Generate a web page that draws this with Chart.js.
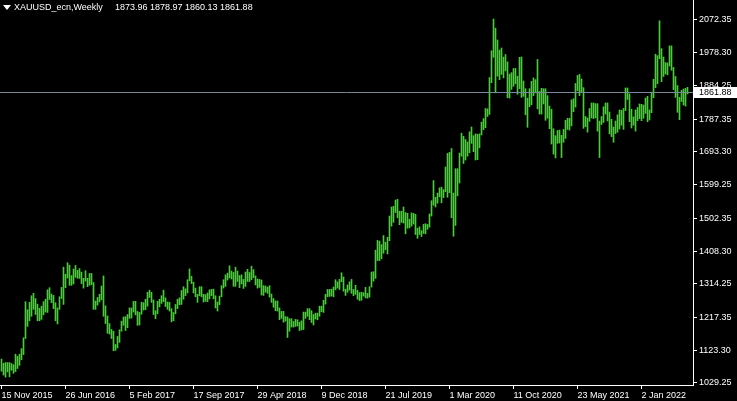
<!DOCTYPE html>
<html>
<head>
<meta charset="utf-8">
<script src="https://cdn.jsdelivr.net/npm/chart.js@4.4.1/dist/chart.umd.min.js"></script>
<style>
  html, body { margin: 0; padding: 0; background: #000; }
  canvas { display: block; }
</style>
</head>
<body>
<canvas id="chart" width="737" height="401"></canvas>
<script>
// weekly bars, first bar = week of 15 Nov 2015, one entry per week
const highs = [
  // 2015
  1098, 1086, 1088, 1088, 1088, 1085, 1082,
  // 2016
  1112, 1106, 1112, 1128, 1159, 1263, 1240, 1261, 1280, 1287, 1272, 1256, 1244,
  1250, 1263, 1270, 1297, 1303, 1285, 1281, 1260, 1245, 1277, 1304, 1362, 1342,
  1375, 1368, 1338, 1357, 1367, 1353, 1358, 1348, 1330, 1352, 1330, 1344, 1344,
  1318, 1265, 1275, 1284, 1308, 1337, 1251, 1222, 1200, 1183, 1178, 1140, 1163,
  // 2017
  1182, 1207, 1219, 1220, 1226, 1245, 1245, 1264, 1264, 1235, 1232, 1261, 1260,
  1270, 1290, 1296, 1290, 1268, 1237, 1264, 1270, 1280, 1296, 1274, 1262, 1261,
  1243, 1232, 1255, 1270, 1274, 1295, 1306, 1300, 1326, 1357, 1336, 1319, 1302,
  1284, 1306, 1306, 1284, 1283, 1288, 1297, 1298, 1299, 1280, 1262, 1279, 1309, 1326,
  // 2018
  1340, 1345, 1366, 1351, 1347, 1362, 1351, 1338, 1340, 1327, 1348, 1356,
  1347, 1365, 1355, 1337, 1328, 1327, 1325, 1309, 1308, 1305, 1309, 1285, 1272,
  1265, 1265, 1245, 1235, 1235, 1220, 1219, 1214, 1214, 1206, 1212, 1211, 1204, 1208,
  1233, 1233, 1243, 1243, 1237, 1226, 1230, 1230, 1250, 1250, 1267, 1284, 1298,
  // 2019
  1298, 1299, 1305, 1326, 1320, 1327, 1346, 1334, 1299, 1311, 1320, 1327, 1298,
  1310, 1296, 1289, 1290, 1289, 1304, 1287, 1306, 1348, 1349, 1411, 1439, 1437,
  1427, 1453, 1434, 1448, 1509, 1535, 1537, 1555, 1557, 1523, 1523, 1535, 1519,
  1517, 1500, 1518, 1517, 1514, 1474, 1478, 1467, 1485, 1487, 1485, 1515, 1553,
  // 2020
  1611, 1563, 1575, 1590, 1592, 1585, 1650, 1689, 1692, 1703, 1575, 1645, 1645,
  1690, 1747, 1738, 1729, 1722, 1751, 1765, 1740, 1745, 1744, 1745, 1779, 1789,
  1818, 1817, 1907, 1984, 2075, 2049, 2015, 1986, 1992, 1966, 1973, 1952, 1917,
  1921, 1933, 1933, 1911, 1965, 1966, 1897, 1875, 1848, 1875, 1896, 1906, 1901,
  // 2021
  1959, 1867, 1876, 1875, 1875, 1855, 1825, 1816, 1760, 1740, 1755, 1756, 1741,
  1758, 1784, 1790, 1790, 1843, 1846, 1890, 1913, 1916, 1903, 1878, 1795, 1791,
  1818, 1834, 1834, 1832, 1832, 1782, 1795, 1823, 1834, 1834, 1808, 1787, 1765,
  1782, 1800, 1814, 1813, 1818, 1877, 1877, 1860, 1816, 1794, 1814, 1821, 1831,
  // 2022
  1830, 1828, 1848, 1853, 1814, 1865, 1902, 1974, 1970, 2070, 1990, 1966, 1950,
  1949, 1998, 1998, 1936, 1910, 1884, 1850, 1870, 1874, 1876, 1879
];

const lows = [
  // 2015
  1063, 1052, 1046, 1061, 1047, 1066, 1057,
  // 2016
  1062, 1071, 1080, 1096, 1111, 1157, 1192, 1208, 1221, 1241, 1226, 1208, 1208,
  1212, 1225, 1233, 1232, 1269, 1260, 1243, 1208, 1199, 1241, 1272, 1255, 1303,
  1331, 1310, 1310, 1314, 1333, 1330, 1330, 1315, 1302, 1322, 1306, 1310, 1312,
  1241, 1241, 1253, 1262, 1268, 1221, 1200, 1172, 1170, 1157, 1122, 1123, 1130,
  // 2017
  1146, 1178, 1195, 1180, 1188, 1215, 1216, 1233, 1225, 1195, 1196, 1227, 1239,
  1240, 1250, 1275, 1261, 1226, 1214, 1228, 1248, 1258, 1263, 1249, 1241, 1236,
  1205, 1208, 1228, 1243, 1254, 1255, 1270, 1280, 1288, 1323, 1315, 1288, 1277,
  1261, 1280, 1277, 1262, 1264, 1263, 1271, 1280, 1271, 1245, 1236, 1254, 1277, 1302,
  // 2018
  1307, 1325, 1331, 1328, 1307, 1307, 1321, 1303, 1314, 1301, 1307, 1321,
  1321, 1326, 1332, 1311, 1302, 1304, 1282, 1281, 1290, 1287, 1276, 1261, 1247,
  1237, 1236, 1211, 1215, 1204, 1207, 1160, 1178, 1190, 1190, 1192, 1193, 1180, 1182,
  1183, 1215, 1221, 1211, 1203, 1196, 1213, 1211, 1221, 1234, 1232, 1256, 1277,
  // 2019
  1278, 1279, 1277, 1297, 1302, 1298, 1320, 1293, 1281, 1290, 1296, 1287, 1280,
  1284, 1270, 1266, 1267, 1279, 1274, 1273, 1276, 1305, 1322, 1330, 1381, 1381,
  1386, 1402, 1412, 1400, 1438, 1480, 1491, 1519, 1504, 1484, 1491, 1489, 1458,
  1474, 1475, 1480, 1486, 1456, 1445, 1456, 1450, 1459, 1458, 1471, 1477, 1509,
  // 2020
  1540, 1535, 1546, 1564, 1547, 1562, 1579, 1563, 1576, 1504, 1451, 1482, 1567,
  1604, 1681, 1660, 1670, 1681, 1691, 1718, 1694, 1670, 1671, 1705, 1742, 1757,
  1763, 1795, 1801, 1892, 1965, 1863, 1911, 1901, 1916, 1906, 1926, 1849, 1848,
  1873, 1882, 1889, 1859, 1875, 1850, 1853, 1800, 1764, 1823, 1829, 1855, 1863,
  // 2021
  1817, 1802, 1802, 1831, 1784, 1790, 1760, 1716, 1687, 1676, 1718, 1719, 1677,
  1721, 1732, 1758, 1756, 1768, 1809, 1822, 1869, 1855, 1866, 1761, 1766, 1750,
  1781, 1791, 1789, 1791, 1753, 1677, 1772, 1778, 1802, 1782, 1745, 1737, 1721,
  1746, 1750, 1759, 1770, 1758, 1812, 1844, 1780, 1762, 1770, 1753, 1783, 1789,
  // 2022
  1783, 1790, 1804, 1780, 1785, 1806, 1849, 1878, 1889, 1961, 1895, 1910, 1917,
  1915, 1940, 1928, 1872, 1850, 1807, 1786, 1838, 1828, 1825, 1860
];

const xTickWeeks = [0, 32, 64, 96, 128, 160, 192, 224, 256, 288, 320];
const xTickLabels = [
  "15 Nov 2015", "26 Jun 2016", "5 Feb 2017", "17 Sep 2017", "29 Apr 2018", "9 Dec 2018",
  "21 Jul 2019", "1 Mar 2020", "11 Oct 2020", "23 May 2021", "2 Jan 2022"
];
const yTickValues = [1029.25, 1123.30, 1217.35, 1314.25, 1408.30, 1502.35,
  1599.25, 1693.30, 1787.35, 1884.25, 1978.30, 2072.35];

const symbolName = "XAUUSD_ecn,Weekly";
const lastBar = [1873.96, 1878.97, 1860.13, 1861.88]; // open high low close

const BAR_COLOR = "#32dc1e";
const TEXT_FONT = "9px 'Liberation Sans', Arial, sans-serif";

Chart.defaults.font.family = "'Liberation Sans', Arial, sans-serif";
Chart.defaults.font.size = 9;
Chart.defaults.color = "#ffffff";

// black background
const bgPlugin = {
  id: "bg",
  beforeDraw(chart) {
    const ctx = chart.ctx;
    ctx.save();
    ctx.fillStyle = "#000";
    ctx.fillRect(0, 0, chart.width, chart.height);
    ctx.restore();
  }
};

// header text, bid line and its price label
const overlayPlugin = {
  id: "overlay",
  afterDraw(chart) {
    const ctx = chart.ctx;
    const area = chart.chartArea;
    const yScale = chart.scales.y;
    const close = lastBar[3];
    const y = Math.round(yScale.getPixelForValue(close)) - 0.5;

    ctx.save();
    ctx.strokeStyle = "#778899";
    ctx.lineWidth = 1;
    ctx.beginPath();
    ctx.moveTo(area.left, y);
    ctx.lineTo(area.right, y);
    ctx.stroke();

    ctx.fillStyle = "#ffffff";
    ctx.fillRect(area.right + 1, y - 5.5, chart.width - area.right - 1, 11);
    ctx.fillStyle = "#000000";
    ctx.font = TEXT_FONT;
    ctx.textBaseline = "middle";
    ctx.textAlign = "left";
    ctx.fillText(close.toFixed(2), area.right + 6, y + 0.5);

    // triangle + symbol + OHLC
    ctx.fillStyle = "#ffffff";
    ctx.beginPath();
    ctx.moveTo(3, 5);
    ctx.lineTo(11, 5);
    ctx.lineTo(7, 10);
    ctx.closePath();
    ctx.fill();
    ctx.fillText(symbolName, 14, 8);
    ctx.fillText(lastBar.map(v => v.toFixed(2)).join(" "), 115, 8);
    ctx.restore();
  }
};

const ctx = document.getElementById("chart").getContext("2d");
new Chart(ctx, {
  type: "bar",
  data: {
    datasets: [
      {
        data: highs.map((h, i) => ({ x: i, y: [lows[i], h] })),
        backgroundColor: BAR_COLOR,
        borderWidth: 0,
        barThickness: 1,
      },
    ],
  },
  options: {
    responsive: false,
    animation: false,
    events: [],
    layout: { padding: 0 },
    plugins: {
      legend: { display: false },
      tooltip: { enabled: false },
      title: { display: false },
    },
    scales: {
      x: {
        type: "linear",
        position: "bottom",
        offset: false,
        min: -0.75,
        max: 345.75,
        afterFit(scale) {
          scale.height = 16;
          scale.paddingLeft = 0;
          scale.paddingRight = 0;
        },
        afterBuildTicks(scale) {
          scale.ticks = xTickWeeks.map((v) => ({ value: v }));
        },
        ticks: {
          color: "#ffffff",
          align: "start",
          padding: 1,
          maxRotation: 0,
          autoSkip: false,
          callback: (v) => xTickLabels[xTickWeeks.indexOf(v)],
        },
        grid: { drawOnChartArea: false, offset: false, color: "#ffffff", tickLength: 4 },
        border: { color: "#ffffff" },
      },
      y: {
        position: "right",
        min: 1023.5,
        max: 2129.82,
        afterFit(scale) {
          scale.width = 44;
          scale.paddingTop = 0;
          scale.paddingBottom = 0;
        },
        afterBuildTicks(scale) {
          scale.ticks = yTickValues.map((v) => ({ value: v }));
        },
        ticks: {
          color: "#ffffff",
          padding: 2,
          callback: (v) => v.toFixed(2),
        },
        grid: { drawOnChartArea: false, color: "#ffffff", tickLength: 4 },
        border: { color: "#ffffff" },
      },
    },
  },
  plugins: [bgPlugin, overlayPlugin],
});
</script>
</body>
</html>
